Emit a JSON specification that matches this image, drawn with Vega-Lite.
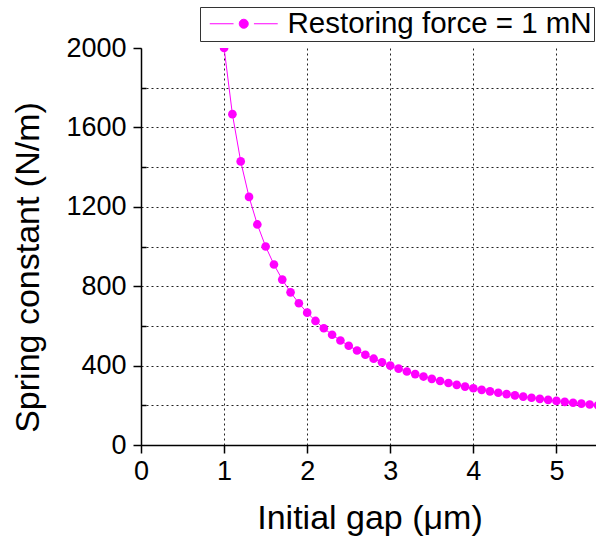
{
  "$schema": "https://vega.github.io/schema/vega-lite/v6.json",
  "width": 457,
  "height": 397,
  "autosize": {"type": "none"},
  "padding": {"left": 141, "top": 48, "right": 0, "bottom": 100},
  "background": "white",
  "config": {
    "font": "Liberation Sans",
    "view": {"stroke": null},
    "axis": {
      "domainColor": "black",
      "domainWidth": 1.5,
      "tickColor": "black",
      "tickWidth": 1.5,
      "labelColor": "black",
      "labelFont": "Liberation Sans",
      "labelFontSize": 27,
      "titleFont": "Liberation Sans",
      "titleFontWeight": "normal",
      "titleColor": "black",
      "titleFontSize": 34,
      "grid": true,
      "gridColor": "#222",
      "gridDash": [2, 3],
      "gridWidth": 1
    }
  },
  "data": {
    "values": [
      {"gap": 1.0, "k": 2000},
      {"gap": 1.1, "k": 1666.7},
      {"gap": 1.2, "k": 1428.6},
      {"gap": 1.3, "k": 1250},
      {"gap": 1.4, "k": 1111.1},
      {"gap": 1.5, "k": 1000},
      {"gap": 1.6, "k": 909.1},
      {"gap": 1.7, "k": 833.3},
      {"gap": 1.8, "k": 769.2},
      {"gap": 1.9, "k": 714.3},
      {"gap": 2.0, "k": 666.7},
      {"gap": 2.1, "k": 625},
      {"gap": 2.2, "k": 588.2},
      {"gap": 2.3, "k": 555.6},
      {"gap": 2.4, "k": 526.3},
      {"gap": 2.5, "k": 500},
      {"gap": 2.6, "k": 476.2},
      {"gap": 2.7, "k": 454.5},
      {"gap": 2.8, "k": 434.8},
      {"gap": 2.9, "k": 416.7},
      {"gap": 3.0, "k": 400},
      {"gap": 3.1, "k": 384.6},
      {"gap": 3.2, "k": 370.4},
      {"gap": 3.3, "k": 357.1},
      {"gap": 3.4, "k": 344.8},
      {"gap": 3.5, "k": 333.3},
      {"gap": 3.6, "k": 322.6},
      {"gap": 3.7, "k": 312.5},
      {"gap": 3.8, "k": 303.0},
      {"gap": 3.9, "k": 294.1},
      {"gap": 4.0, "k": 285.7},
      {"gap": 4.1, "k": 277.8},
      {"gap": 4.2, "k": 270.3},
      {"gap": 4.3, "k": 263.2},
      {"gap": 4.4, "k": 256.4},
      {"gap": 4.5, "k": 250},
      {"gap": 4.6, "k": 243.9},
      {"gap": 4.7, "k": 238.1},
      {"gap": 4.8, "k": 232.6},
      {"gap": 4.9, "k": 227.3},
      {"gap": 5.0, "k": 222.2},
      {"gap": 5.1, "k": 217.4},
      {"gap": 5.2, "k": 212.8},
      {"gap": 5.3, "k": 208.3},
      {"gap": 5.4, "k": 204.1},
      {"gap": 5.5, "k": 200}
    ]
  },
  "encoding": {
    "x": {
      "field": "gap",
      "type": "quantitative",
      "scale": {"domain": [0, 5.5], "nice": false, "zero": false},
      "axis": {
        "title": "Initial gap (μm)",
        "values": [0, 0.5, 1, 1.5, 2, 2.5, 3, 3.5, 4, 4.5, 5, 5.5],
        "format": "d",
        "labelExpr": "datum.value % 1 == 0 ? datum.label : ''",
        "tickSize": {"condition": {"test": "datum.value % 1 == 0", "value": 8}, "value": -5},
        "labelPadding": 5,
        "titlePadding": 17,
        "labelFlush": false
      }
    },
    "y": {
      "field": "k",
      "type": "quantitative",
      "scale": {"domain": [0, 2000], "nice": false},
      "axis": {
        "title": "Spring constant (N/m)",
        "values": [0, 200, 400, 600, 800, 1000, 1200, 1400, 1600, 1800, 2000],
        "labelExpr": "datum.value % 400 == 0 ? datum.label : ''",
        "format": "d",
        "tickSize": {"condition": {"test": "datum.value % 400 == 0", "value": 8}, "value": -5},
        "gridOpacity": {"condition": {"test": "datum.value == 2000", "value": 0}, "value": 1},
        "labelPadding": 7,
        "titlePadding": 20,
        "titleY": 219,
        "labelFlush": false
      }
    },
    "color": {
      "datum": "Restoring force = 1 mN",
      "type": "nominal",
      "scale": {"range": ["#ff00ff"]},
      "legend": {
        "title": null,
        "orient": "none",
        "legendX": 59,
        "legendY": -41,
        "labelFont": "Liberation Sans",
        "labelFontSize": 29.5,
        "labelColor": "black",
        "labelLimit": 500,
        "symbolOffset": 27,
        "labelOffset": 29,
        "symbolType": "M-3,0L-0.9,0M0.9,0L3,0M0.4,0A0.4,0.4,0,1,1,-0.4,0A0.4,0.4,0,1,1,0.4,0Z",
        "symbolSize": 513,
        "symbolStrokeWidth": 1,
        "symbolFillColor": "#ff00ff",
        "symbolStrokeColor": "#ff00ff",
        "strokeColor": "#333",
        "fillColor": "white",
        "padding": 2
      }
    }
  },
  "layer": [
    {"mark": {"type": "line", "strokeWidth": 1, "clip": true}},
    {"mark": {"type": "point", "filled": true, "opacity": 1, "size": 75, "shape": "circle", "clip": true}}
  ]
}
